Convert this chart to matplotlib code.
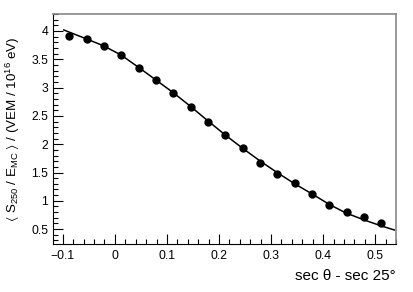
import matplotlib
matplotlib.use("Agg")
import matplotlib.pyplot as plt
from matplotlib.ticker import MultipleLocator

plt.rcParams['font.family'] = ['Liberation Sans', 'DejaVu Sans']
plt.rcParams['mathtext.fontset'] = 'custom'
plt.rcParams['mathtext.rm'] = 'Liberation Sans'
plt.rcParams['mathtext.it'] = 'Liberation Sans:italic'
plt.rcParams['mathtext.fallback'] = 'stixsans'

# measured points
sec_x = [-0.088, -0.054, -0.021, 0.012, 0.046, 0.079, 0.112, 0.146, 0.179, 0.212,
         0.246, 0.279, 0.312, 0.346, 0.379, 0.412, 0.446, 0.479, 0.512]
ratio = [3.917, 3.859, 3.730, 3.576, 3.340, 3.140, 2.910, 2.657, 2.390, 2.163,
         1.930, 1.668, 1.470, 1.310, 1.115, 0.920, 0.809, 0.715, 0.602]

# fit curve
fit_x = [-0.098, -0.054, -0.021, 0.012, 0.046, 0.079, 0.113, 0.146, 0.179, 0.212,
         0.246, 0.279, 0.313, 0.346, 0.379, 0.412, 0.444, 0.479, 0.512, 0.537]
fit_y = [4.018, 3.859, 3.735, 3.576, 3.355, 3.134, 2.905, 2.663, 2.410, 2.163,
         1.924, 1.703, 1.491, 1.297, 1.120, 0.935, 0.784, 0.661, 0.555, 0.484]

fig = plt.figure(figsize=(4.13, 2.92), dpi=100)
ax = fig.add_axes([0.128, 0.164, 0.831, 0.788])

ax.plot(fit_x, fit_y, color='black', lw=1.1, zorder=2)
ax.plot(sec_x, ratio, 'o', color='black', ms=5, zorder=3)

ax.set_xlim(-0.119, 0.54)
ax.set_ylim(0.235, 4.30)

ax.xaxis.set_major_locator(MultipleLocator(0.1))
ax.xaxis.set_minor_locator(MultipleLocator(0.02))
ax.yaxis.set_major_locator(MultipleLocator(0.5))
ax.yaxis.set_minor_locator(MultipleLocator(0.1))
ax.xaxis.set_major_formatter(plt.FuncFormatter(lambda v, p: ('%g' % round(v, 2)).replace('-', '\u2212')))
ax.yaxis.set_major_formatter(plt.FuncFormatter(lambda v, p: '%g' % round(v, 2)))

ax.tick_params(which='both', direction='in', top=False, right=False, labelsize=8.8, width=0.8)
ax.tick_params(which='major', length=7.5)
ax.tick_params(which='minor', length=3.8)
ax.tick_params(axis='x', pad=4)

for s in ['top', 'right']:
    ax.spines[s].set_color('#888888')
    ax.spines[s].set_linewidth(1.2)
for s in ['left', 'bottom']:
    ax.spines[s].set_linewidth(0.8)

ax.set_ylabel(r'$\langle$ S$_{250}$ / E$_{\rm MC}$ $\rangle$ / (VEM / 10$^{16}$ eV)', fontsize=9.6)
ax.yaxis.set_label_coords(-0.09, 0.5)
ax.set_xlabel('sec \u03b8 - sec 25\u00b0', fontsize=11)
ax.xaxis.set_label_coords(1.0, -0.11)
ax.xaxis.label.set_horizontalalignment('right')

fig.savefig('out.png', dpi=100)
